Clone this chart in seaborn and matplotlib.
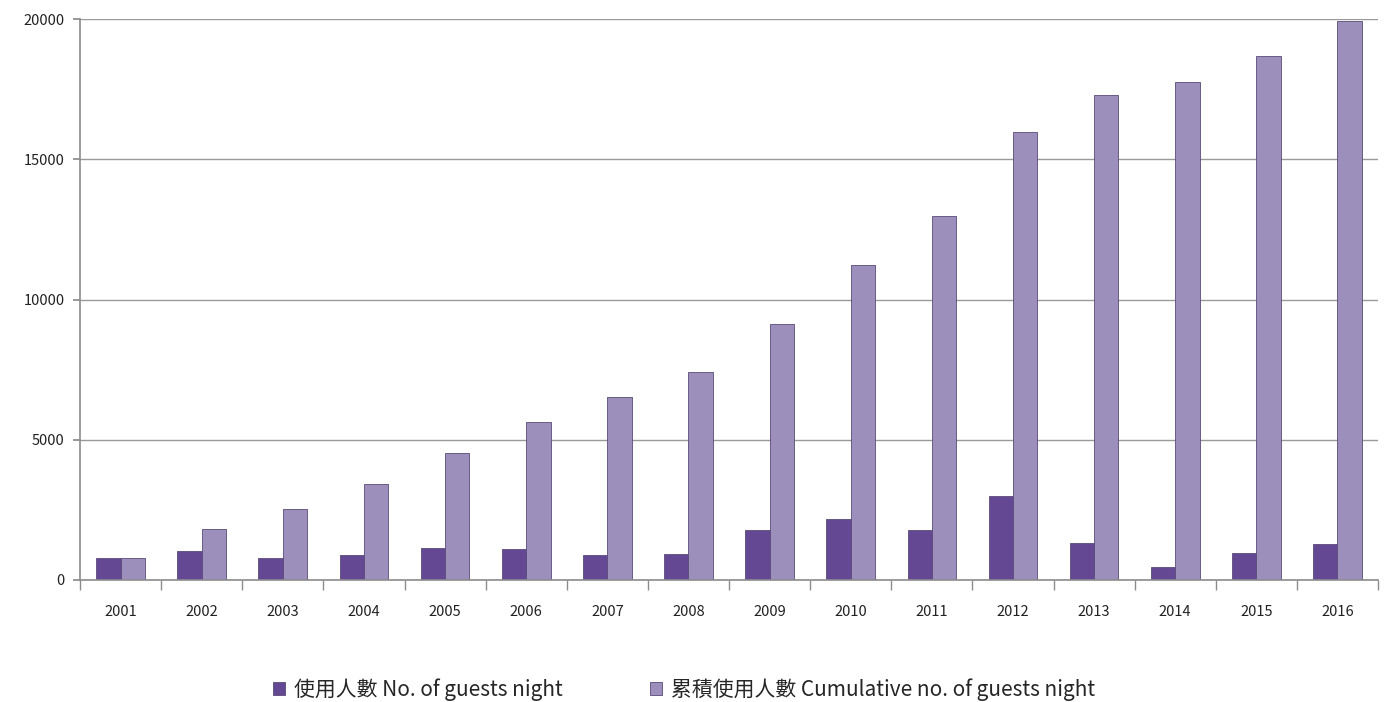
import numpy as np
import pandas as pd
import seaborn as sns
import matplotlib.pyplot as plt
from matplotlib.ticker import FixedLocator

years = [str(y) for y in range(2001, 2017)]
guests = [775, 1045, 775, 880, 1150, 1105, 880, 940, 1770, 2175, 1770, 2985, 1330, 450, 950, 1270]
cumulative = [775, 1820, 2540, 3435, 4530, 5630, 6525, 7415, 9125, 11230, 12980, 15970, 17290, 17750, 18680, 19930]

label_a = "使用人數 No. of guests night"
label_b = "累積使用人數 Cumulative no. of guests night"

df = pd.DataFrame({
    "Year": years * 2,
    "Value": guests + cumulative,
    "Series": [label_a] * len(years) + [label_b] * len(years),
})

sns.set_theme(style="white")
plt.rcParams['font.family'] = ['Noto Sans CJK TC', 'DejaVu Sans']

fig = plt.figure(figsize=(13.84, 7.02), dpi=100)
ax = fig.add_axes([0.0578, 0.1738, 0.9379, 0.7991])

palette = {label_a: "#654894", label_b: "#9c8fbb"}
sns.barplot(data=df, x="Year", y="Value", hue="Series", palette=palette,
            width=0.6, ax=ax, edgecolor="#5a4a78", linewidth=0.6,
            saturation=1, legend=True)

ax.set_ylim(0, 20000)
ax.set_xlim(-0.5, len(years) - 0.5)
ax.set_yticks([0, 5000, 10000, 15000, 20000])
ax.yaxis.grid(True, color="#999999", linewidth=1)
ax.set_axisbelow(True)
ax.set_xlabel("")
ax.set_ylabel("")

for s in ["top", "right"]:
    ax.spines[s].set_visible(False)
for s in ["left", "bottom"]:
    ax.spines[s].set_color("#8c8c8c")
    ax.spines[s].set_linewidth(1.2)

# category boundary ticks like the original
ax.xaxis.set_minor_locator(FixedLocator(np.arange(-0.5, len(years), 1)))
ax.tick_params(axis="x", which="major", length=0, pad=18, labelsize=10.5, colors="#222222")
ax.tick_params(axis="x", which="minor", bottom=True, length=7, color="#8c8c8c", width=1)
ax.tick_params(axis="y", which="major", left=True, length=5, color="#8c8c8c",
               labelsize=10.5, colors="#222222", pad=6)

handles, labels = ax.get_legend_handles_labels()
ax.get_legend().remove()
fig.legend(handles, labels, loc="center", bbox_to_anchor=(0.494, 0.018), ncol=2,
           frameon=False, fontsize=15, handlelength=0.6, handleheight=0.6,
           columnspacing=4.2, handletextpad=0.4)

fig.savefig("out.png", dpi=100)
